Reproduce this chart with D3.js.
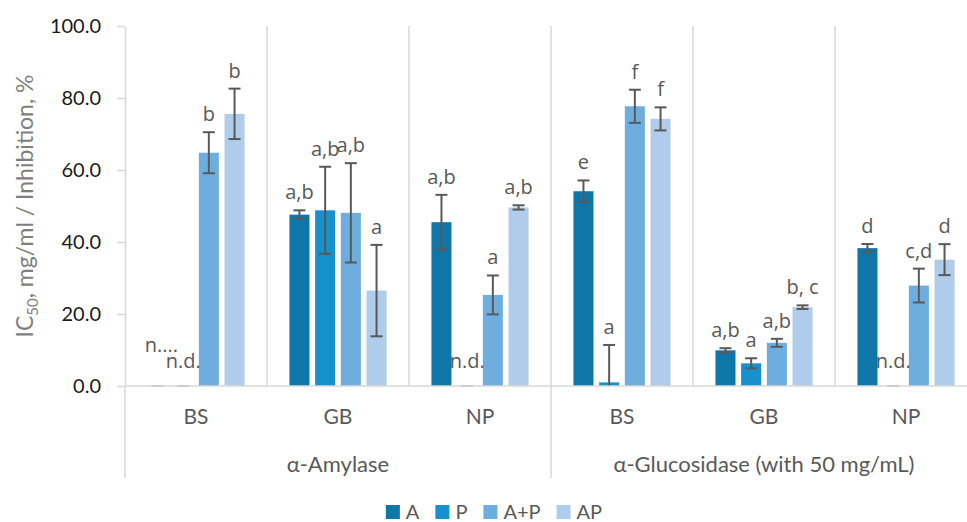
<!DOCTYPE html>
<html>
<head>
<meta charset="utf-8">
<script src="https://cdn.jsdelivr.net/npm/d3@7"></script>
<style>
  body { margin: 0; background: #fff; }
  svg { display: block; font-family: Lato, "Open Sans", sans-serif; }
</style>
</head>
<body>
<svg id="chart" width="967" height="522"></svg>
<script>
// Enzymes (outer category level) and extracts (inner category level)
const enzymes = ["α-Amylase", "α-Glucosidase (with 50 mg/mL)"];
const extracts = ["BS", "GB", "NP"];
const series = ["A", "P", "A+P", "AP"];
const seriesColors = ["#0e76a8", "#1691cd", "#6daede", "#afcdea"];

// Values per series, in order: Amylase BS, GB, NP, Glucosidase BS, GB, NP
const valuesA   = [0, 47.6, 45.5, 54.1, 9.9, 38.3];
const valuesP   = [0, 48.8, 0, 1.0, 6.3, 0];
const valuesAP1 = [64.8, 48.1, 25.3, 77.7, 12.0, 27.9];   // A+P
const valuesAP2 = [75.6, 26.5, 49.6, 74.2, 21.9, 35.1];   // AP

// Error (± SD)
const errA   = [0, 1.2, 7.6, 3.0, 0.6, 1.15];
const errP   = [0, 12.1, 0, 10.4, 1.4, 0];
const errAP1 = [5.7, 13.8, 5.4, 4.6, 1.1, 4.7];
const errAP2 = [7.0, 12.7, 0.6, 3.2, 0.5, 4.3];

// Significance letters
const lettersA   = ["n....", "a,b", "a,b", "e", "a,b", "d"];
const lettersP   = ["n.d.", "a,b", "n.d.", "a", "a", "n.d."];
const lettersAP1 = ["b", "a,b", "a", "f", "a,b", "c,d"];
const lettersAP2 = ["b", "a", "a,b", "f", "b, c", "d"];

const yTicks = [0, 20, 40, 60, 80, 100];

const allValues = [valuesA, valuesP, valuesAP1, valuesAP2];
const allErrors = [errA, errP, errAP1, errAP2];
const allLetters = [lettersA, lettersP, lettersAP1, lettersAP2];

const groups = [];
enzymes.forEach(en => extracts.forEach(ex => groups.push({ enzyme: en, extract: ex, key: en + "|" + ex })));

const svg = d3.select("#chart");
const W = 967;
const plotLeft = 125, plotRight = 977, plotTop = 26, plotBottom = 386;
const gridColor = "#d9d9d9";
const textGray = "#595959";
const labelFont = "'Open Sans', sans-serif";

const y = d3.scaleLinear().domain([0, 100]).range([plotBottom, plotTop]);
const x0 = d3.scaleBand().domain(groups.map(g => g.key)).range([plotLeft, plotRight]).padding(0);
const x1 = d3.scaleBand().domain(series).range([0, x0.bandwidth()])
  .paddingInner(0.22).paddingOuter(0.873);

// Vertical gridlines between extracts
const gridG = svg.append("g");
groups.forEach((g, i) => {
  if (i === 0) return;
  const xx = x0(g.key);
  const isEnzymeBreak = i % extracts.length === 0;
  gridG.append("line")
    .attr("x1", xx).attr("x2", xx)
    .attr("y1", y(100)).attr("y2", isEnzymeBreak ? 478 : plotBottom)
    .attr("stroke", gridColor).attr("stroke-width", 1.5);
});
// outer category boundaries under the axis
[plotLeft, plotRight].forEach(xx => {
  gridG.append("line")
    .attr("x1", xx).attr("x2", xx)
    .attr("y1", plotBottom).attr("y2", 478)
    .attr("stroke", gridColor).attr("stroke-width", 1.5);
});

// Bars
const barData = [];
series.forEach((s, si) => {
  groups.forEach((g, gi) => {
    barData.push({
      series: s, si, gi, group: g,
      value: allValues[si][gi], err: allErrors[si][gi], label: allLetters[si][gi],
      x: x0(g.key) + x1(s)
    });
  });
});

svg.append("g").selectAll("rect")
  .data(barData.filter(d => d.value > 0))
  .join("rect")
  .attr("x", d => d.x)
  .attr("width", x1.bandwidth())
  .attr("y", d => y(d.value))
  .attr("height", d => y(0) - y(d.value))
  .attr("fill", d => seriesColors[d.si]);

// Error bars
const capW = 12;
const errG = svg.append("g").attr("stroke", textGray).attr("stroke-width", 2).attr("fill", "none");
barData.forEach(d => {
  const cx = d.x + x1.bandwidth() / 2;
  const hi = d.value + d.err;
  const loRaw = d.value - d.err;
  const lo = Math.max(0, loRaw);
  const col = d.value === 0 ? "#a6a6a6" : textGray;
  if (d.err > 0) {
    errG.append("line").attr("x1", cx).attr("x2", cx).attr("y1", y(hi)).attr("y2", y(lo));
  }
  errG.append("line").attr("stroke", col)
    .attr("x1", cx - capW / 2).attr("x2", cx + capW / 2).attr("y1", y(hi)).attr("y2", y(hi));
  if (loRaw >= 0 && d.err > 0) {
    errG.append("line")
      .attr("x1", cx - capW / 2).attr("x2", cx + capW / 2).attr("y1", y(lo)).attr("y2", y(lo));
  }
});

// Axes
const yAxis = d3.axisLeft(y).tickValues(yTicks).tickFormat(d3.format(".1f"))
  .tickSize(8).tickSizeOuter(0).tickPadding(16);
const yAxisG = svg.append("g").attr("transform", `translate(${plotLeft},0)`).call(yAxis);
yAxisG.select(".domain").attr("stroke", gridColor).attr("stroke-width", 1.5);
yAxisG.selectAll(".tick line").attr("stroke", gridColor).attr("stroke-width", 1.5);
yAxisG.selectAll(".tick text").attr("fill", "#1a1a1a")
  .style("font-size", "20px").style("font-family", "Lato, sans-serif");

// horizontal category axis line
svg.append("line")
  .attr("x1", plotLeft).attr("x2", W).attr("y1", y(0)).attr("y2", y(0))
  .attr("stroke", gridColor).attr("stroke-width", 1.5);

// Data labels (letters)
const labelG = svg.append("g").attr("fill", textGray)
  .style("font-size", "20px").style("font-family", labelFont).attr("text-anchor", "middle");
groups.forEach((g, gi) => {
  const groupBars = barData.filter(d => d.gi === gi).sort((a, b) => a.si - b.si);
  // zero-value labels: lift an earlier one if the next one is also zero
  groupBars.forEach((d, k) => {
    const cx = d.x + x1.bandwidth() / 2;
    if (d.value === 0) {
      const nextZero = k + 1 < groupBars.length && groupBars[k + 1].value === 0;
      labelG.append("text").attr("x", nextZero ? cx + 4 : cx)
        .attr("y", y(0) - 18 - (nextZero ? 16 : 0)).text(d.label);
    } else {
      labelG.append("text").attr("x", cx).attr("y", y(d.value + d.err) - 11).text(d.label);
    }
  });
});

// Category labels: extracts
svg.append("g").selectAll("text")
  .data(groups)
  .join("text")
  .attr("x", d => x0(d.key) + x0.bandwidth() / 2)
  .attr("y", 424)
  .attr("text-anchor", "middle")
  .attr("fill", textGray)
  .style("font-size", "21px")
  .text(d => d.extract);

// Category labels: enzymes
const enzymeWidth = x0.bandwidth() * extracts.length;
svg.append("g").selectAll("text")
  .data(enzymes)
  .join("text")
  .attr("x", (d, i) => plotLeft + enzymeWidth * i + enzymeWidth / 2)
  .attr("y", 472)
  .attr("text-anchor", "middle")
  .attr("fill", textGray)
  .style("font-size", "22px")
  .text(d => d);

// Y axis title
const yTitle = svg.append("text")
  .attr("transform", `translate(33,${(plotTop + plotBottom) / 2}) rotate(-90)`)
  .attr("text-anchor", "middle")
  .attr("fill", "#7f7f7f")
  .style("font-size", "23px");
yTitle.append("tspan").text("IC");
yTitle.append("tspan").attr("dy", 5).style("font-size", "15px").text("50");
yTitle.append("tspan").attr("dy", -5).text(", mg/ml / Inhibition, %");

// Legend
const legend = svg.append("g");
let lx = 0;
series.forEach((s, si) => {
  const item = legend.append("g").attr("transform", `translate(${lx},0)`);
  item.append("rect").attr("x", 0).attr("y", -14).attr("width", 14).attr("height", 14)
    .attr("fill", seriesColors[si]);
  const t = item.append("text").attr("x", 20).attr("y", 0)
    .attr("fill", textGray).style("font-size", "20px").text(s);
  lx += 20 + t.node().getComputedTextLength() + 16;
});
const legendW = lx - 16;
legend.attr("transform", `translate(${494 - legendW / 2},519)`);
</script>
</body>
</html>
